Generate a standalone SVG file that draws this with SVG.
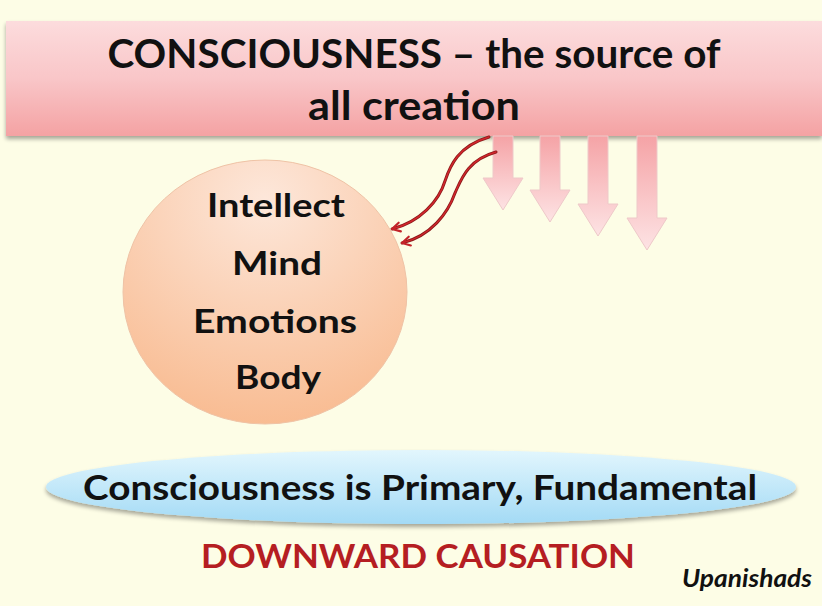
<svg xmlns="http://www.w3.org/2000/svg" width="822" height="606" viewBox="0 0 822 606">
<style>
.t{font-family:Lato,"Open Sans","Liberation Sans",sans-serif;font-weight:bold;fill:#111;text-anchor:middle}
.blk{fill:url(#blockG);stroke:#eec9c9;stroke-width:1}
.cur{fill:none;stroke:#8a1a1a;stroke-width:3;stroke-linecap:round}
.cur2{fill:none;stroke:#d2262c;stroke-width:1.4;stroke-linecap:round}
</style>
<defs>
<linearGradient id="bandG" x1="0" y1="0" x2="0" y2="1">
<stop offset="0" stop-color="#fcdcdd"/>
<stop offset="0.5" stop-color="#f9c6c8"/>
<stop offset="1" stop-color="#f4a2a3"/>
</linearGradient>
<linearGradient id="blockG" x1="0" y1="0" x2="0" y2="1">
<stop offset="0" stop-color="#f5a3a6"/>
<stop offset="1" stop-color="#fde3e4"/>
</linearGradient>
<radialGradient id="circG" cx="0.5" cy="0.15" r="0.95">
<stop offset="0" stop-color="#fde7da"/>
<stop offset="1" stop-color="#f8b78a"/>
</radialGradient>
<linearGradient id="ellG" x1="0" y1="0" x2="0" y2="1">
<stop offset="0" stop-color="#e2f6fd"/>
<stop offset="1" stop-color="#a3daf5"/>
</linearGradient>
<filter id="sh" x="-5%" y="-5%" width="110%" height="130%">
<feGaussianBlur in="SourceAlpha" stdDeviation="2"/>
<feOffset dy="3" result="o"/>
<feComponentTransfer><feFuncA type="linear" slope="0.35"/></feComponentTransfer>
<feMerge><feMergeNode/><feMergeNode in="SourceGraphic"/></feMerge>
</filter>
<marker id="chev" viewBox="0 0 12 12" refX="10" refY="6" markerWidth="12" markerHeight="12" orient="auto" markerUnits="userSpaceOnUse">
<path d="M2,1.5 L10,6 L2,10.5" fill="none" stroke="#c3242a" stroke-width="2.2" stroke-linecap="round" stroke-linejoin="round"/>
</marker>
</defs>
<rect width="822" height="606" fill="#fdfde6"/>

<g id="header">
<rect x="6" y="21" width="816" height="115" fill="url(#bandG)" filter="url(#sh)"/>
<text class="t" x="414" y="68" font-size="40" textLength="613" lengthAdjust="spacingAndGlyphs">CONSCIOUSNESS – the source of</text>
<text class="t" x="414" y="120" font-size="40" textLength="212" lengthAdjust="spacingAndGlyphs">all creation</text>
</g>

<g id="connectors">
<path class="blk" d="M493,136 h20 v42 h10 l-20,32 l-20,-32 h10 z"/>
<path class="blk" d="M540,136 h20 v54 h10 l-20,32 l-20,-32 h10 z"/>
<path class="blk" d="M588,136 h20 v68 h10 l-20,32 l-20,-32 h10 z"/>
<path class="blk" d="M637,136 h20 v82 h10 l-20,32 l-20,-32 h10 z"/>
<path class="cur" d="M489,137 C458,146 450,166 445,181 C439,201 420,222 392,229"/>
<path class="cur" d="M496,152 C467,160 461,180 455,193 C448,213 431,236 402,243"/>
<path class="cur2" d="M489,137 C458,146 450,166 445,181 C439,201 420,222 392,229" marker-end="url(#chev)"/>
<path class="cur2" d="M496,152 C467,160 461,180 455,193 C448,213 431,236 402,243" marker-end="url(#chev)"/>
</g>

<g id="circle">
<ellipse cx="265" cy="292" rx="142" ry="132" fill="url(#circG)" stroke="#efc3a6" stroke-width="1"/>
<text class="t" x="276" y="217" font-size="32" textLength="138" lengthAdjust="spacingAndGlyphs">Intellect</text>
<text class="t" x="277" y="275" font-size="32" textLength="90" lengthAdjust="spacingAndGlyphs">Mind</text>
<text class="t" x="275" y="333" font-size="32" textLength="164" lengthAdjust="spacingAndGlyphs">Emotions</text>
<text class="t" x="278" y="389" font-size="32" textLength="86" lengthAdjust="spacingAndGlyphs">Body</text>
</g>

<g id="primary">
<ellipse cx="421" cy="487" rx="375" ry="37" fill="url(#ellG)" filter="url(#sh)"/>
<text class="t" x="420" y="500" font-size="34" fill="#0e1a2a" textLength="674" lengthAdjust="spacingAndGlyphs">Consciousness is Primary, Fundamental</text>
</g>

<g id="downward">
<text class="t" x="418" y="568" font-size="33" style="fill:#b51e22" textLength="434" lengthAdjust="spacingAndGlyphs">DOWNWARD CAUSATION</text>
</g>

<g id="source">
<text class="t" x="747" y="587" font-size="25" font-style="italic" textLength="130" lengthAdjust="spacingAndGlyphs">Upanishads</text>
</g>
</svg>
